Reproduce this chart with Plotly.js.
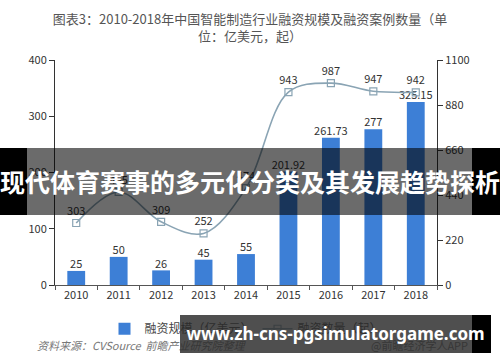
<!DOCTYPE html>
<html><head><meta charset="utf-8">
<script src="https://cdn.plot.ly/plotly-3.0.1.min.js"></script>
<style>
body{margin:0;padding:0;background:#fff;}
#wrap{position:relative;width:500px;height:362px;overflow:hidden;}
#chart{width:500px;height:362px;}
.ov{position:absolute;}
</style></head>
<body>
<div id="wrap">
<div id="chart"></div>
<div class="ov" style="left:0;top:148px;width:27px;height:67px;background:#000;"></div>
<div class="ov" style="left:27px;top:148px;width:445px;height:67px;background:rgba(0,0,0,0.58);"></div>
<div class="ov" style="left:472px;top:148px;width:28px;height:67px;background:#000;"></div>
<div class="ov" style="left:0;top:148px;width:500px;height:67px;line-height:67px;text-align:center;color:#fff;font-family:'Noto Sans CJK SC';font-weight:bold;font-size:25px;white-space:nowrap;">现代体育赛事的多元化分类及其发展趋势探析</div>
<div class="ov" style="left:180px;top:315px;width:292px;height:38px;background:rgba(40,40,40,0.82);"></div>
<div class="ov" style="left:472px;top:315px;width:19px;height:38px;background:#000;"></div>
<div class="ov" style="left:180px;top:315px;width:311px;height:38px;line-height:38px;text-align:center;color:#fff;font-family:'Noto Sans';font-weight:bold;font-size:17px;white-space:nowrap;">www.zh-cns-pgsimulatorgame.com</div>
</div>
<script>
const years = ['2010','2011','2012','2013','2014','2015','2016','2017','2018'];
const amount = [25, 50, 26, 45, 55, 201.92, 261.73, 277, 325.15];
const amountLabels = ['25','50','26','45','55','201.92','261.73','277','325.15'];
const cases = [303, 455, 309, 252, 474, 943, 987, 947, 942];
const caseLabels = ['303','455','309','252','474','943','987','947','942'];
const leftTicks = [0, 100, 200, 300, 400];
const rightTicks = [0, 220, 440, 660, 880, 1100];

const font = "'Noto Sans CJK SC', 'Liberation Sans', sans-serif";
const traces = [
  {type:'bar', name:'融资规模（亿美元）', x:years, y:amount,
   marker:{color:'#3d7fd6'}, width:0.42, yaxis:'y'},
  {type:'scatter', mode:'text', x:years, y:amount, text:amountLabels, showlegend:false,
   textposition:'top center', textfont:{size:11,color:'#333'}, yaxis:'y', cliponaxis:false, hoverinfo:'skip'},
  {type:'scatter', mode:'lines+markers+text', name:'融资数量（起）', x:years, y:cases,
   text:caseLabels, textposition:'top center', textfont:{size:11,color:'#333'},
   line:{color:'#8aa4b4', width:1.6, shape:'spline', smoothing:1},
   marker:{symbol:'square-open', size:7, color:'#8aa4b4', line:{width:1.2}}, yaxis:'y2', cliponaxis:false}
];
const layout = {
  width:500, height:362,
  margin:{l:55, r:63, t:60, b:77},
  paper_bgcolor:'#fff', plot_bgcolor:'#fff',
  font:{family:font, color:'#333', size:11},
  title:{text:'图表3：2010-2018年中国智能制造行业融资规模及融资案例数量（单<br>位：亿美元，起）',
    x:0.5, xanchor:'center', yref:'container', y:1-24/362, yanchor:'middle', font:{size:13, color:'#555', family:font}},
  showlegend:true,
  legend:{orientation:'h', x:0.5, xanchor:'center', y:-0.13, yanchor:'top', font:{size:12,color:'#444'}, itemwidth:30, traceorder:'normal'},
  xaxis:{type:'category', showline:true, linecolor:'#555', linewidth:1, ticks:'outside', tickson:'boundaries',
    ticklen:4, tickcolor:'#555', showgrid:false, range:[-0.5,8.5], tickfont:{size:11,color:'#333'}},
  yaxis:{range:[0,400], tickvals:leftTicks, showline:true, linecolor:'#333', linewidth:1, ticks:'outside',
    ticklen:5, tickcolor:'#333', showgrid:false, zeroline:false, tickfont:{size:11,color:'#333'}},
  yaxis2:{range:[0,1100], tickvals:rightTicks, overlaying:'y', side:'right', showline:true, linecolor:'#333',
    linewidth:1, ticks:'outside', ticklen:5, tickcolor:'#333', showgrid:false, zeroline:false, tickfont:{size:11,color:'#333'}},
  annotations:[
    {xref:'paper', yref:'paper', x:(35-55)/382, y:(285-345)/225, xanchor:'left', yanchor:'middle', showarrow:false,
     text:'<i>资料来源：CVSource  前瞻产业研究院整理</i>', font:{size:11,color:'#777'}},
    {xref:'paper', yref:'paper', x:(470-55)/382, y:(285-345)/225, xanchor:'right', yanchor:'middle', showarrow:false,
     text:'@前瞻经济学人APP', font:{size:11,color:'#777'}}
  ]
};
Plotly.newPlot('chart', traces, layout, {displayModeBar:false, staticPlot:true});
</script>
</body></html>
